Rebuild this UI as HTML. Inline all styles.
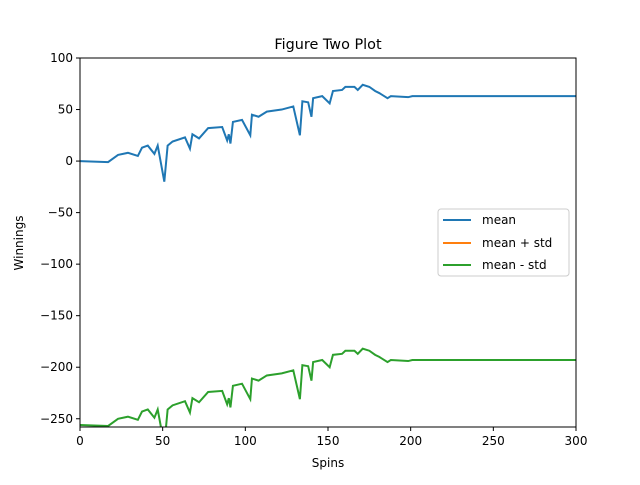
<!DOCTYPE html>
<html><head><meta charset="utf-8"><style>
body{margin:0;background:#fff;}
svg{font-family:"DejaVu Sans","Liberation Sans",sans-serif;}
</style></head><body>
<svg id="chart" width="640" height="480">
<rect width="640" height="480" fill="#fff"/>
<text x="328" y="49" font-size="14.4" text-anchor="middle">Figure Two Plot</text>
<defs><clipPath id="clip"><rect x="80" y="58" width="496" height="369"/></clipPath></defs>
<g id="series" clip-path="url(#clip)"></g>
<g id="axes"></g>
<text x="328" y="467" font-size="12" text-anchor="middle">Spins</text>
<text transform="translate(23,243) rotate(-90)" font-size="12" text-anchor="middle">Winnings</text>
<g>
<rect x="438" y="209" width="131" height="67" rx="3" fill="#fff" stroke="#ccc" stroke-width="1"/>
<g><line x1="443" y1="220" x2="471" y2="220" stroke="#1f77b4" stroke-width="2"/><text x="482" y="224" font-size="12">mean</text></g>
<g><line x1="443" y1="243" x2="471" y2="243" stroke="#ff7f0e" stroke-width="2"/><text x="482" y="247" font-size="12">mean + std</text></g>
<g><line x1="443" y1="265" x2="471" y2="265" stroke="#2ca02c" stroke-width="2"/><text x="482" y="269" font-size="12">mean - std</text></g>
</g>
</svg>
<script>
const spins=[0,17,23,29,35,37.5,41,45,47,51,53,56,63.5,66.5,68,72,77.5,86,89,90,91,92.5,98,103,104,108,113,122,129,133,134.5,138,140,141,146.5,151,153,158.5,160.5,166,168,171,175,178.5,181,186,188,198.5,201,300];
const mean=[0,-1,6,8,5,13,15,7,15,-20,15,19,23,12,26,22,32,33,20,26,17,38,40,25,45,43,48,50,53,25,58,57,43,61,63,56,68,69,72,72,69,74,72,68,66,61,63,62,63,63];
const std=[256];
const xTicks=[0,50,100,150,200,250,300];
const yTicks=[100,50,0,-50,-100,-150,-200,-250];
const X0=80,X1=576,Y0=427,Y1=58,xmin=0,xmax=300,ymin=-258,ymax=100;
const xs=v=>X0+(v-xmin)/(xmax-xmin)*(X1-X0);
const ys=v=>Y0-(v-ymin)/(ymax-ymin)*(Y0-Y1);
const NS="http://www.w3.org/2000/svg";
const g=document.getElementById('series'),ax=document.getElementById('axes');
function line(vals,color,name){
 const p=document.createElementNS(NS,'polyline');
 p.setAttribute('points',spins.map((s,i)=>xs(s)+','+ys(vals[i])).join(' '));
 p.setAttribute('fill','none');p.setAttribute('stroke',color);p.setAttribute('stroke-width','2');
 
 
 g.appendChild(p);
}
line(mean,'#1f77b4','mean-line');
line(mean.map(v=>v+std[0]),'#ff7f0e','mean-plus-std-line');
line(mean.map(v=>v-std[0]),'#2ca02c','mean-minus-std-line');
const fr=document.createElementNS(NS,'rect');
fr.setAttribute('x',X0);fr.setAttribute('y',Y1);fr.setAttribute('width',X1-X0);fr.setAttribute('height',Y0-Y1);
fr.setAttribute('fill','none');fr.setAttribute('stroke','#000');fr.setAttribute('stroke-width','1');


ax.appendChild(fr);
xTicks.forEach(t=>{
 const x=xs(t);
 const l=document.createElementNS(NS,'line');
 l.setAttribute('x1',x);l.setAttribute('x2',x);l.setAttribute('y1',Y0);l.setAttribute('y2',Y0+4);l.setAttribute('stroke','#000');
 
 
 ax.appendChild(l);
 const tx=document.createElementNS(NS,'text');
 tx.setAttribute('x',x);tx.setAttribute('y',Y0+18);tx.setAttribute('font-size','12');tx.setAttribute('text-anchor','middle');
 tx.textContent=t;
 
 
 ax.appendChild(tx);
});
yTicks.forEach(t=>{
 const y=ys(t);
 const l=document.createElementNS(NS,'line');
 l.setAttribute('x1',X0-4);l.setAttribute('x2',X0);l.setAttribute('y1',y);l.setAttribute('y2',y);l.setAttribute('stroke','#000');
 
 
 ax.appendChild(l);
 const tx=document.createElementNS(NS,'text');
 tx.setAttribute('x',X0-7);tx.setAttribute('y',y+4);tx.setAttribute('font-size','12');tx.setAttribute('text-anchor','end');
 tx.textContent=t<0?'\u2212'+(-t):t;
 
 
 ax.appendChild(tx);
});
</script>
</body></html>
